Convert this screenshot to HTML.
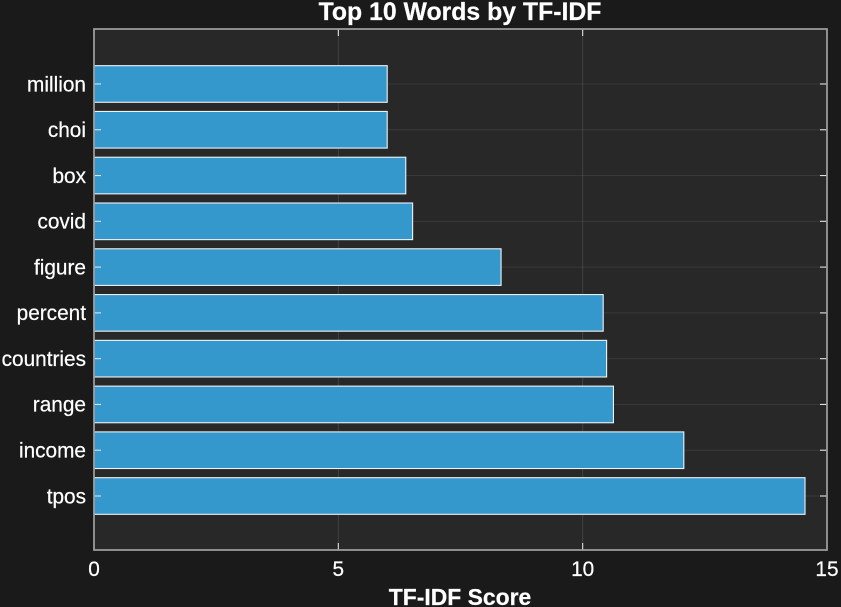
<!DOCTYPE html>
<html>
<head>
<meta charset="utf-8">
<style>
html,body{margin:0;padding:0;background:#1a1a1a;width:841px;height:607px;overflow:hidden}
svg{display:block}
text{font-family:"Liberation Sans",sans-serif;fill:#fff;stroke:#fff;stroke-width:0.2px}
</style>
</head>
<body>
<svg id="chart" width="841" height="607" viewBox="0 0 841 607" xmlns="http://www.w3.org/2000/svg"></svg>
<script>
const categories = ["tpos","income","range","countries","percent","figure","covid","box","choi","million"];
const scores = [14.55,12.07,10.63,10.49,10.42,8.33,6.52,6.38,6.0,6.0];
const xTicks = [0,5,10,15];
const xDomain = [0,15];
const yDomain = [-1,10];
const chartTitle = "Top 10 Words by TF-IDF";
const xAxisTitle = "TF-IDF Score";

const svg = document.getElementById('chart');
const NS = 'http://www.w3.org/2000/svg';
const L = 94, R = 827, T = 29, B = 550;
function xScale(v){ return L + (v - xDomain[0]) / (xDomain[1] - xDomain[0]) * (R - L); }
const step = 45.78;
function yScale(i){ return 496 - i * step; }
function make(tag, attrs, parent){
  const el = document.createElementNS(NS, tag);
  for (const k in attrs) el.setAttribute(k, attrs[k]);
  (parent || svg).appendChild(el);
  return el;
}

const plot = make('rect', {x:L, y:T, width:R-L, height:B-T, fill:'#282828'});



xTicks.forEach(function(t){
  const g = make('line', {x1:xScale(t), x2:xScale(t), y1:T, y2:B, stroke:'#fff', 'stroke-opacity':0.12, 'stroke-width':1});
  
  
});
categories.forEach(function(c, i){
  const g = make('line', {x1:L, x2:R, y1:yScale(i), y2:yScale(i), stroke:'#fff', 'stroke-opacity':0.08, 'stroke-width':1});
  
  
});

const barH = step * 0.8;
scores.forEach(function(v, i){
  const b = make('rect', {x:xScale(0), y:yScale(i)-barH/2, width:xScale(v)-xScale(0), height:barH, fill:'#3498cc', stroke:'#f0f3f5', 'stroke-width':1.1});
  
  
});

categories.forEach(function(c, i){
  const y = yScale(i);
  const t1 = make('line', {x1:L, x2:L+7, y1:y, y2:y, stroke:'#e0e0e0', 'stroke-width':1.1});
  
  
  const t2 = make('line', {x1:R-7, x2:R, y1:y, y2:y, stroke:'#e0e0e0', 'stroke-width':1.1});
  
  
  const lbl = make('text', {x:86, y:y+7.3, 'text-anchor':'end', 'font-size':20.8});
  lbl.textContent = c;
  
  
});

xTicks.forEach(function(t){
  const x = xScale(t);
  const t1 = make('line', {x1:x, x2:x, y1:B-7, y2:B, stroke:'#e0e0e0', 'stroke-width':1.1});
  
  
  const t2 = make('line', {x1:x, x2:x, y1:T, y2:T+7, stroke:'#e0e0e0', 'stroke-width':1.1});
  
  
  const lbl = make('text', {x:x, y:576, 'text-anchor':'middle', 'font-size':20.8});
  lbl.textContent = String(t);
  
  
});

const frame = make('rect', {x:L, y:T, width:R-L, height:B-T, fill:'none', stroke:'#a0a0a0', 'stroke-width':1.7});



const title = make('text', {x:460, y:20, 'text-anchor':'middle', 'font-size':24.8, 'font-weight':'bold'});
title.textContent = chartTitle;



const xTitle = make('text', {x:460, y:605, 'text-anchor':'middle', 'font-size':22.9, 'font-weight':'bold'});
xTitle.textContent = xAxisTitle;


</script>
</body>
</html>
